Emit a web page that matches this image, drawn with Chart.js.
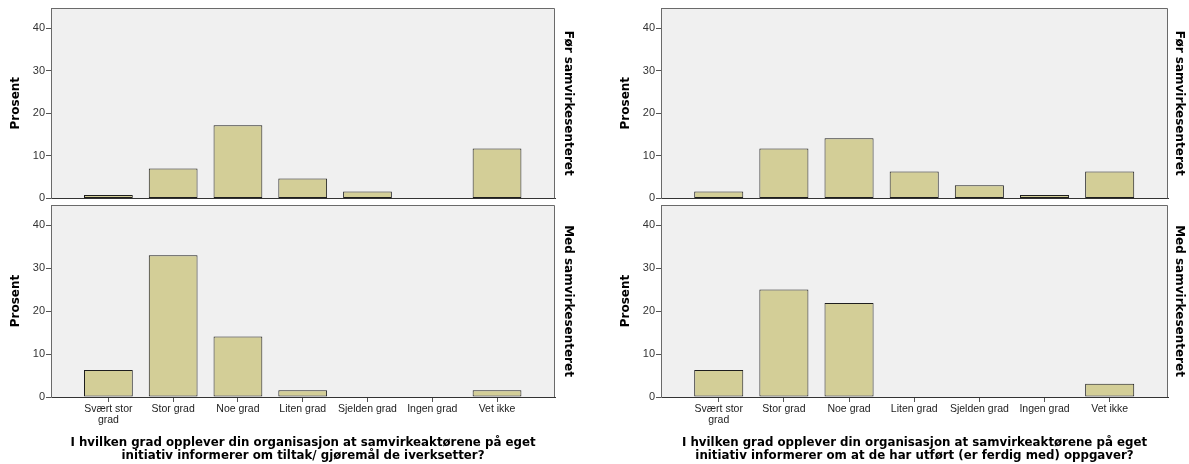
<!DOCTYPE html>
<html>
<head>
<meta charset="utf-8">
<script src="https://cdn.jsdelivr.net/npm/chart.js@4"></script>
<style>
body { margin:0; width:1189px; height:464px; background:#fff; position:relative; overflow:hidden; }
canvas { position:absolute; }
</style>
</head>
<body>
<canvas id="lt" width="600" height="206" style="left:0;top:0"></canvas>
<canvas id="lb" width="600" height="267" style="left:0;top:197px"></canvas>
<canvas id="rt" width="579" height="206" style="left:610px;top:0"></canvas>
<canvas id="rb" width="579" height="267" style="left:610px;top:197px"></canvas>
<script>
// data (percent)
const categories = [['Svært stor', 'grad'], 'Stor grad', 'Noe grad', 'Liten grad', 'Sjelden grad', 'Ingen grad', 'Vet ikke'];
const leftFor = [0.8, 7.0, 17.2, 4.7, 1.6, null, 11.7];
const leftMed = [6.3, 33.0, 14.1, 1.6, 0, 0, 1.6];
const rightFor = [1.6, 11.7, 14.1, 6.3, 3.1, 0.8, 6.3];
const rightMed = [6.3, 25.0, 21.9, 0, 0, 0, 3.1];
const yTitle = 'Prosent';
const rowTitles = ['Før samvirkesenteret', 'Med samvirkesenteret'];
const leftXTitle = ['I hvilken grad opplever din organisasjon at samvirkeaktørene på eget', 'initiativ informerer om tiltak/ gjøremål de iverksetter?'];
const rightXTitle = ['I hvilken grad opplever din organisasjon at samvirkeaktørene på eget', 'initiativ informerer om at de har utført (er ferdig med) oppgaver?'];

const FONT = '"Liberation Sans", Arial, sans-serif';
const TFONT = '"DejaVu Sans", Verdana, sans-serif';

const panelBg = {
    id: 'panelBg',
    beforeDraw(chart) {
        const a = chart.chartArea, ctx = chart.ctx;
        ctx.save();
        ctx.fillStyle = '#f0f0f0';
        ctx.fillRect(a.left, a.top, a.right - a.left, a.bottom - a.top);
        ctx.restore();
    },
    afterDatasetsDraw(chart) {
        const a = chart.chartArea, ctx = chart.ctx;
        ctx.save();
        ctx.strokeStyle = '#6a6a6a';
        ctx.lineWidth = 1;
        ctx.beginPath();
        ctx.moveTo(a.left + 0.5, a.bottom);
        ctx.lineTo(a.left + 0.5, a.top + 0.5);
        ctx.lineTo(a.right - 0.5, a.top + 0.5);
        ctx.lineTo(a.right - 0.5, a.bottom);
        ctx.stroke();
        ctx.restore();
    }
};

function makeChart(id, values, rowTitle, xTitle, rightW, rightPad) {
    const bottom = xTitle !== null;
    const pts = [];
    values.forEach((v, i) => { if (v !== null) pts.push({x: i, y: v}); });
    new Chart(document.getElementById(id), {
        type: 'bar',
        data: {
            datasets: [{
                data: pts,
                backgroundColor: '#d3ce97',
                borderColor: '#1e1e1e',
                borderWidth: 1,
                borderSkipped: false,
                barPercentage: 0.753,
                categoryPercentage: 1
            }]
        },
        plugins: [panelBg],
        options: {
            responsive: false,
            animation: false,
            layout: { padding: { top: 8, bottom: bottom ? 0 : 6, left: 0, right: 0 } },
            plugins: { legend: { display: false }, tooltip: { enabled: false } },
            scales: {
                x: {
                    type: 'linear',
                    bounds: 'data',
                    offset: false,
                    min: -0.886,
                    max: 6.895,
                    afterBuildTicks: s => { s.ticks = categories.map((c, i) => ({ value: i })); },
                    afterFit: s => { s.height = bottom ? 67 : 0; },
                    grid: { offset: false, drawOnChartArea: false, drawTicks: bottom, tickLength: 5, color: '#555' },
                    border: { color: '#333', width: 1 },
                    ticks: {
                        display: bottom,
                        padding: 2,
                        maxRotation: 0,
                        autoSkip: false,
                        color: '#222',
                        font: { family: FONT, size: 10.5, lineHeight: 1.0 },
                        callback: v => categories[v]
                    },
                    title: {
                        display: bottom,
                        text: xTitle || '',
                        color: '#000',
                        padding: { top: 0, bottom: 2 },
                        font: { family: TFONT, size: 11.8, weight: 'bold', lineHeight: 1.1 }
                    }
                },
                y: {
                    min: 0,
                    max: 44.7,
                    afterFit: s => { s.width = 51; },
                    grid: { drawOnChartArea: false, tickLength: 5, color: '#555' },
                    border: { color: '#777', width: 1 },
                    ticks: {
                        stepSize: 10,
                        includeBounds: false,
                        padding: 1,
                        color: '#333',
                        font: { family: FONT, size: 11 }
                    },
                    title: {
                        display: true,
                        text: yTitle,
                        color: '#000',
                        padding: { top: 9, bottom: 0 },
                        font: { family: TFONT, size: 12, weight: 'bold', lineHeight: 1.2 }
                    }
                },
                y2: {
                    position: 'right',
                    display: true,
                    afterFit: s => { s.width = rightW; },
                    grid: { display: false },
                    border: { display: false },
                    ticks: { display: false },
                    title: {
                        display: true,
                        text: rowTitle,
                        color: '#000',
                        padding: { top: rightPad, bottom: 0 },
                        font: { family: TFONT, size: 12, weight: 'bold', lineHeight: 1.2 }
                    }
                }
            }
        }
    });
}

makeChart('lt', leftFor, rowTitles[0], null, 45, 24.8);
makeChart('lb', leftMed, rowTitles[1], leftXTitle, 45, 24.8);
makeChart('rt', rightFor, rowTitles[0], null, 21, 2.8);
makeChart('rb', rightMed, rowTitles[1], rightXTitle, 21, 2.8);
</script>
</body>
</html>
